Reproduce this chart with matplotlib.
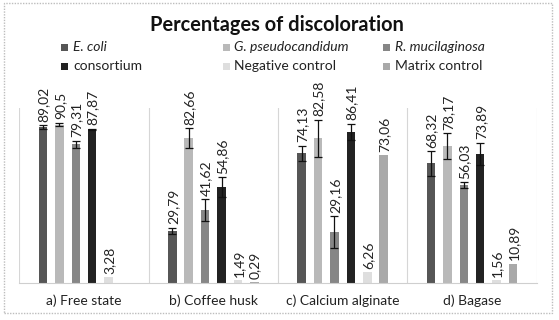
import numpy as np
import matplotlib
matplotlib.use("Agg")
import matplotlib.pyplot as plt
from matplotlib.patches import Rectangle

plt.rcParams['font.family'] = ['Lato', 'DejaVu Sans']

categories = ["a) Free state", "b) Coffee husk", "c) Calcium alginate", "d) Bagase"]
series_names = ["E. coli", "G. pseudocandidum", "R. mucilaginosa",
                "consortium", "Negative control", "Matrix control"]
italic_names = [True, True, True, False, False, False]

e_coli = [89.02, 29.79, 74.13, 68.32]
g_pseudo = [90.50, 82.66, 82.58, 78.17]
r_muci = [79.31, 41.62, 29.16, 56.03]
consortium = [87.87, 54.86, 86.41, 73.89]
neg_control = [3.28, 1.49, 6.26, 1.56]
matrix_control = [np.nan, 0.29, 73.06, 10.89]

e_coli_err = [1.0, 1.7, 4.2, 6.9]
g_pseudo_err = [1.0, 5.8, 10.7, 7.3]
r_muci_err = [1.9, 6.3, 8.9, 1.6]
consortium_err = [0.3, 5.7, 4.5, 6.2]
neg_control_err = [0, 0, 0, 0]
matrix_control_err = [0, 0, 0, 0]

values = [e_coli, g_pseudo, r_muci, consortium, neg_control, matrix_control]
errors = [e_coli_err, g_pseudo_err, r_muci_err, consortium_err,
          neg_control_err, matrix_control_err]
colors = ["#565656", "#b9b9b9", "#868686", "#222222", "#dedede", "#a9a9a9"]

fig = plt.figure(figsize=(5.59, 3.2), dpi=100)
W, H = 559, 320
ax = fig.add_axes([19.3 / W, 1 - 283 / H, (536.7 - 19.3) / W, (283 - 108) / H])

n = len(series_names)
step = 0.1267
bw = 0.066
x = np.arange(len(categories))

def fmt(v):
    s = f"{v:.2f}".rstrip('0').rstrip('.')
    return s.replace('.', ',')

for i in range(n):
    vals = np.array(values[i], dtype=float)
    errs = np.array(errors[i], dtype=float)
    pos = x + (i - (n - 1) / 2) * step
    mask = ~np.isnan(vals)
    ax.bar(pos[mask], vals[mask], width=bw, color=colors[i], zorder=2)
    em = mask & (errs > 0)
    ax.errorbar(pos[em], vals[em], yerr=errs[em], fmt='none', ecolor='#111111',
                elinewidth=0.9, capsize=2.6, capthick=0.9, zorder=3)
    for p, v, e, m in zip(pos, vals, errs, mask):
        if not m:
            continue
        ax.annotate(fmt(v), (p, v + e), xytext=(0.5, 2.5), textcoords='offset points',
                    rotation=90, ha='center', va='bottom', fontsize=10,
                    color='#222222', annotation_clip=False)

ax.set_xlim(-0.5, len(categories) - 0.5)
ax.set_ylim(0, 100)
for s in ['top', 'right', 'left']:
    ax.spines[s].set_visible(False)
ax.spines['bottom'].set_color('#cfcfcf')
ax.spines['bottom'].set_linewidth(0.8)
for b in np.arange(-0.5, len(categories), 1.0):
    ax.axvline(b, color='#d6d6d6', linewidth=0.8, zorder=1)
ax.set_yticks([])
ax.set_xticks(x)
ax.set_xticklabels(categories, fontsize=10, color='#222222')
ax.tick_params(axis='x', length=0, pad=8)

fig.text(277 / W, 1 - 25 / H, "Percentages of discoloration", ha='center', va='center',
         fontsize=14.4, fontweight='bold', color='#111111')

marker_x = [64, 226, 386]
text_x = [73, 234, 395]
rows_y = [47, 66]
for i, name in enumerate(series_names):
    r, c = divmod(i, 3)
    yy = rows_y[r]
    fig.patches.append(Rectangle(((marker_x[c] - 3.5) / W, 1 - (yy + 3.5) / H), 7 / W, 7 / H,
                                 transform=fig.transFigure, facecolor=colors[i],
                                 edgecolor='none'))
    fig.text(text_x[c] / W, 1 - yy / H, name, ha='left', va='center', fontsize=10,
             style='italic' if italic_names[i] else 'normal', color='#222222')

fig.patches.append(Rectangle((4 / W, 1 - 313 / H), 548 / W, 310 / H,
                             transform=fig.transFigure, facecolor='none',
                             edgecolor='#bdbdbd', linewidth=1.0, linestyle=(0, (1, 1))))

fig.savefig("out.png", dpi=100)
